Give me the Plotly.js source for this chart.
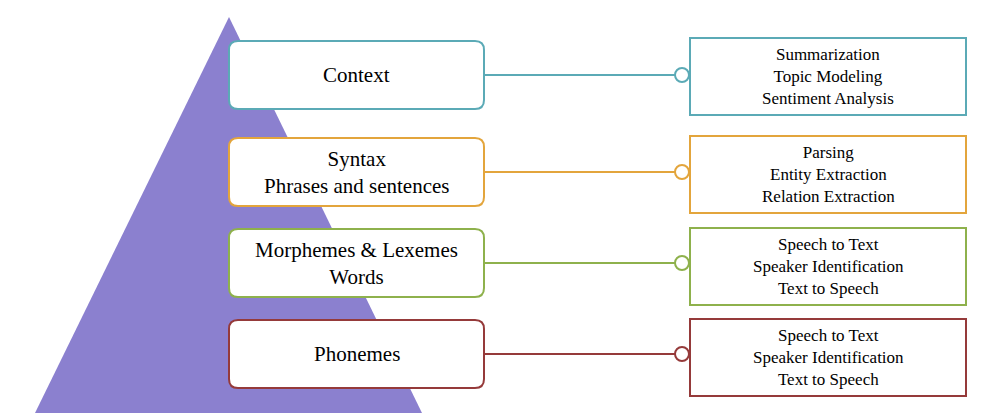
<!DOCTYPE html>
<html>
<head>
<script src="https://cdn.plot.ly/plotly-3.0.1.min.js"></script>
<style>body{margin:0;background:#fff}</style>
</head>
<body>
<div id="chart" style="width:982px;height:413px;"></div>
<script>
// levels of the pyramid, top to bottom
const levelLabels = ['Context', 'Syntax<br>Phrases and sentences', 'Morphemes &amp; Lexemes<br>Words', 'Phonemes'];
const taskLabels = [
	'Summarization<br>Topic Modeling<br>Sentiment Analysis',
	'Parsing<br>Entity Extraction<br>Relation Extraction',
	'Speech to Text<br>Speaker Identification<br>Text to Speech',
	'Speech to Text<br>Speaker Identification<br>Text to Speech'
];
const levelColors = ['#5BAAB6', '#E3A53C', '#8EB14C', '#953A3A'];

// geometry (pixel space)
const leftTop = [41, 138, 229, 320];
const rightTop = [38, 136, 228, 319];
const LX0 = 229, LX1 = 484, LH = 68;
const RX0 = 690, RX1 = 966, RH = 77;
const CX = 682, CR = 7;

function roundRect(x0, y0, x1, y1, r) {
	return `M${x0 + r},${y0} L${x1 - r},${y0} Q${x1},${y0} ${x1},${y0 + r} L${x1},${y1 - r} Q${x1},${y1} ${x1 - r},${y1} ` +
		`L${x0 + r},${y1} Q${x0},${y1} ${x0},${y1 - r} L${x0},${y0 + r} Q${x0},${y0} ${x0 + r},${y0} Z`;
}

const shapes = [{
	type: 'path', path: 'M229,17 L422,413 L35,413 Z',
	fillcolor: '#8B80CF', line: { width: 0 }
}];
const annotations = [];

levelLabels.forEach((lab, i) => {
	const c = levelColors[i];
	const ly = leftTop[i], ry = rightTop[i];
	const cy = ly + LH / 2;
	shapes.push({ type: 'path', path: roundRect(LX0, ly, LX1, ly + LH, 9), fillcolor: '#fff', line: { color: c, width: 2 } });
	shapes.push({ type: 'line', x0: LX1, x1: CX - CR, y0: cy, y1: cy, line: { color: c, width: 2 } });
	shapes.push({ type: 'circle', x0: CX - CR, x1: CX + CR, y0: cy - CR, y1: cy + CR, fillcolor: '#fff', line: { color: c, width: 2 } });
	shapes.push({ type: 'rect', x0: RX0, x1: RX1, y0: ry, y1: ry + RH, fillcolor: '#fff', line: { color: c, width: 2 } });
	annotations.push({ x: (LX0 + LX1) / 2, y: cy, text: lab, showarrow: false, font: { family: 'Liberation Serif', size: 21, color: '#000' } });
	annotations.push({ x: (RX0 + RX1) / 2, y: ry + RH / 2, text: taskLabels[i], showarrow: false, font: { family: 'Liberation Serif', size: 17, color: '#000' } });
});

Plotly.newPlot('chart', [], {
	width: 982, height: 413,
	margin: { l: 0, r: 0, t: 0, b: 0 },
	paper_bgcolor: '#fff', plot_bgcolor: '#fff',
	xaxis: { range: [0, 982], visible: false, fixedrange: true },
	yaxis: { range: [413, 0], visible: false, fixedrange: true },
	shapes: shapes,
	annotations: annotations,
	showlegend: false
}, { displayModeBar: false, staticPlot: true });
</script>
</body>
</html>
